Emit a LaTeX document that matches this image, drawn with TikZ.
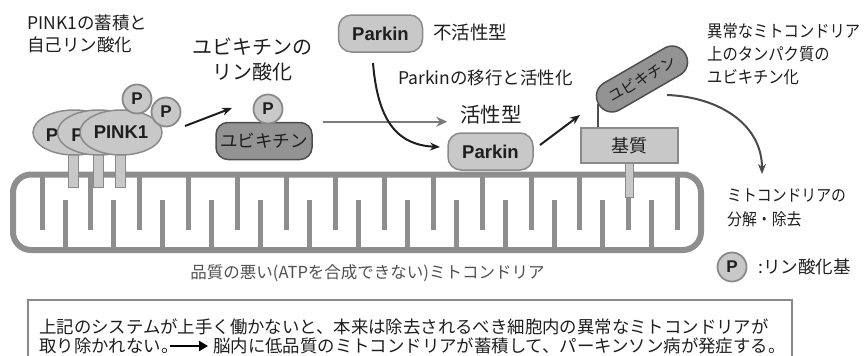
\documentclass[tikz,border=0pt]{standalone}
\usepackage{fontspec}
\setmainfont{Noto Sans CJK JP}
\newfontfamily\narrowjp{Noto Sans CJK JP}[FakeStretch=0.9]
\newfontfamily\latinbold{Liberation Sans}
\usetikzlibrary{arrows.meta,shapes.geometric,backgrounds}

\definecolor{ink}{HTML}{1E1E1E}
\definecolor{mito}{HTML}{8E8E8E}
\definecolor{paleFill}{HTML}{C8C8C8}
\definecolor{paleEdge}{HTML}{8A8A8A}
\definecolor{ubqFill}{HTML}{939393}
\definecolor{ubqEdge}{HTML}{4E4E4E}
\definecolor{arrowGray}{HTML}{7A7A7A}
\definecolor{curveGray}{HTML}{4A4A4A}
\definecolor{captionGray}{HTML}{505050}

\tikzset{
  membrane/.style={draw=mito, line width=6pt, rounded corners=18pt},
  crista/.style={draw=mito, line width=5pt},
  stalk/.style={draw=paleEdge, fill=paleFill, line width=1pt},
  pinkell/.style={ellipse, minimum width=82pt, minimum height=45pt, inner sep=0pt,
    fill=paleFill, draw=paleEdge, line width=1.5pt, text=ink,
    font=\latinbold\bfseries\fontsize{18.5}{22}\selectfont},
  plabel/.style={inner sep=0pt, text=ink, font=\latinbold\bfseries\fontsize{18.5}{22}\selectfont},
  pcirc/.style={circle, minimum size=29pt, inner sep=0pt, fill=paleFill, draw=paleEdge,
    line width=1.8pt, text=ink, font=\latinbold\bfseries\fontsize{17}{20}\selectfont},
  ubq/.style={rectangle, rounded corners=12pt, inner sep=0pt, fill=ubqFill, draw=ubqEdge,
    line width=1.5pt, text=ink},
  parkin/.style={rectangle, rounded corners=13pt, minimum width=84pt, minimum height=37pt,
    inner sep=0pt, fill=paleFill, draw=paleEdge, line width=1.5pt, text=ink,
    font=\latinbold\bfseries\fontsize{18.5}{22}\selectfont},
  substrate/.style={rectangle, minimum width=97pt, minimum height=35pt, inner sep=0pt,
    fill=paleFill, draw=paleEdge, line width=1.5pt, text=ink,
    font=\fontsize{18}{22}\selectfont},
  label/.style={inner sep=0pt, text=ink},
  blackarrow/.style={draw=ink, line width=2pt, -{Stealth[length=10pt,width=8pt]}},
  grayarrow/.style={draw=arrowGray, line width=2.5pt, -{Stealth[length=11pt,width=10pt]}},
  curvearrow/.style={draw=curveGray, line width=2pt, -{Stealth[length=10pt,width=8pt]}},
  notearrow/.style={draw=black, line width=2.4pt, -{Triangle[length=9pt,width=10pt]}}
}

\begin{document}
\begin{tikzpicture}[x=1pt,y=-1pt]
\useasboundingbox (0,0) rectangle (865,356);

% mitochondrion: outer membrane and alternating cristae
\draw[membrane] (13,174.5) rectangle (701,250);
\foreach \k in {0,...,13} \draw[crista] ({42+48.9*\k},174.5) -- ++(0,55.5);
\foreach \k in {0,...,12} \draw[crista] ({65+48.9*\k},250) -- ++(0,-50);

% PINK1 anchors in the membrane
\foreach \x in {73,98,120} \draw[stalk] ({\x-5},140) rectangle ({\x+5},187);

% accumulated PINK1
\node[pinkell] (pink1) at (74,132.5) {};
\node[plabel] (pl1) at (52,135) {P};
\node[pinkell] (pink2) at (98.5,132.5) {};
\node[plabel] (pl2) at (77.5,135) {P};
\node[pinkell] (pink3) at (121,132.5) {PINK1};
\node[pcirc] (pa) at (137,99) {P};
\node[pcirc] (pb) at (166,112) {P};

\node[label, anchor=west, align=left, font=\fontsize{17.5}{22}\selectfont] (tpink)
  at (27,34) {PINK1の蓄積と\\自己リン酸化};

% phosphorylated ubiquitin
\node[ubq, minimum width=96pt, minimum height=37pt, font=\fontsize{17.5}{21}\selectfont]
  (ubq1) at (264,141) {ユビキチン};
\node[pcirc] (pc) at (268,109) {P};
\node[label, align=center, font=\fontsize{20}{25}\selectfont] (tubq)
  at (252,59.5) {ユビキチンの\\リン酸化};

\coordinate (pinkOut) at (185,126);
\coordinate (ubqIn) at (232,108);
\draw[blackarrow] (pinkOut) -- (ubqIn);

% Parkin: inactive and active forms
\node[parkin] (parkin1) at (380.5,33.5) {Parkin};
\node[label, anchor=west, font=\fontsize{18.5}{22}\selectfont] (tinact) at (433,32) {不活性型};
\node[label, anchor=west, font=\fontsize{17.5}{21}\selectfont] (tmove) at (398,78) {Parkinの移行と活性化};
\node[parkin, minimum width=85pt] (parkin2) at (490.5,151.5) {Parkin};
\node[label, font=\fontsize{20.5}{24}\selectfont] (tact) at (491,115) {活性型};

\draw[grayarrow] ([shift={(10,0)}]ubq1.north east) -- (ubq1.north east -| parkin2.west);
\coordinate (moveStart) at (373,63);
\coordinate (moveEnd) at (440,147);
\draw[blackarrow] (moveStart) .. controls (378,125) and (400,145) .. (moveEnd);

% ubiquitinated substrate on the membrane
\draw[stalk] (625,160) rectangle (633,197);
\node[substrate] (kishitsu) at (629.5,145.5) {基質};
\node[ubq, rotate=30, minimum width=100pt, minimum height=31pt, rounded corners=15pt,
  font=\fontsize{15}{17}\selectfont] (ubq2) at (642,79) {ユビキチン};
\begin{scope}[on background layer]
  \draw[draw=ubqEdge, line width=1.5pt] (ubq2.west) -- (ubq2.west |- kishitsu.north);
\end{scope}

\coordinate (actOut) at (540,145);
\coordinate (ubq2In) at (580,115);
\draw[blackarrow] (actOut) -- (ubq2In);

\node[label, anchor=west, align=left, font=\narrowjp\fontsize{17}{23}\selectfont] (tubq2)
  at (707,54.5) {異常なミトコンドリア\\上のタンパク質の\\ユビキチン化};

% degradation
\node[label, anchor=west, align=left, font=\narrowjp\fontsize{16.5}{24}\selectfont] (tdeg)
  at (727,208) {ミトコンドリアの\\分解・除去};
\coordinate (degStart) at (667,95);
\coordinate (degEnd) at (762,174);
\draw[curvearrow] (degStart) .. controls (720,97) and (762,125) .. (degEnd);

% legend and caption
\node[pcirc] (plegend) at (732,267) {P};
\node[label, anchor=west, font=\fontsize{17.5}{21}\selectfont] (tlegend) at (758,267) {:リン酸化基};
\node[label, text=captionGray, font=\fontsize{16.5}{20}\selectfont] (tcap)
  at (367.5,273) {品質の悪い(ATPを合成できない)ミトコンドリア};

% note box
\draw[draw=paleEdge, line width=1.5pt] (28,300) rectangle (792,366);
\node[label, anchor=west, font=\fontsize{17.4}{21}\selectfont] (note1)
  at (39,327) {上記のシステムが上手く働かないと、本来は除去されるべき細胞内の異常なミトコンドリアが};
\node[label, anchor=west, font=\fontsize{17.4}{21}\selectfont] (note2a)
  at (39,346) {取り除かれない。};
\node[label, anchor=west, font=\fontsize{17.4}{21}\selectfont] (note2b)
  at (213,346) {脳内に低品質のミトコンドリアが蓄積して、パーキンソン病が発症する。};
\draw[notearrow, shorten <=-9pt, shorten >=5pt] (note2a.east) -- (note2b.west);
\end{tikzpicture}
\end{document}
